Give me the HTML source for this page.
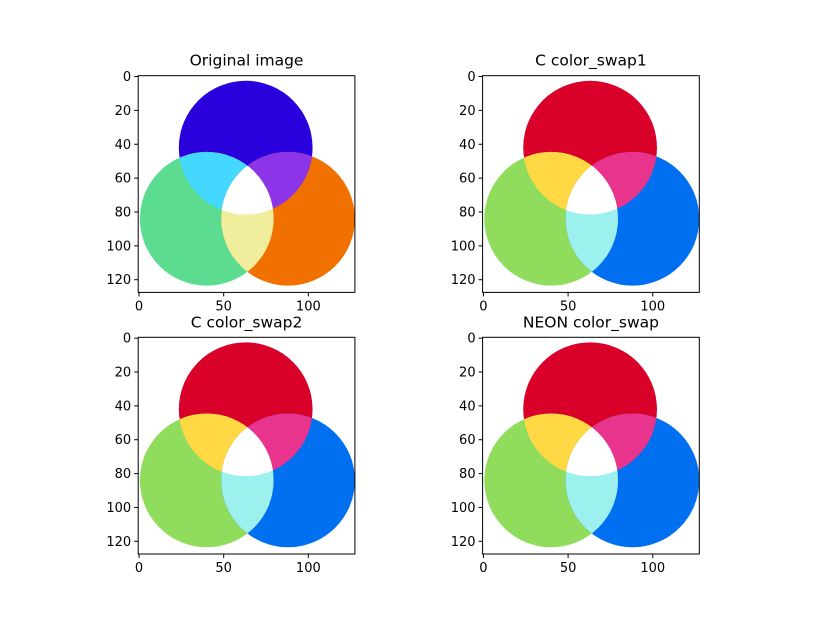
<!DOCTYPE html>
<html><head><meta charset="utf-8">
<style>
html,body{margin:0;padding:0;background:#fff;}
svg{display:block;font-family:"DejaVu Sans","Liberation Sans",sans-serif;}
</style></head>
<body>
<svg id="fig" width="816" height="622" viewBox="0 0 816 622" xmlns="http://www.w3.org/2000/svg"></svg>
<script>
// data
const titles = ["Original image","C color_swap1","C color_swap2","NEON color_swap"];
const circleCx = [63, 40, 88];
const circleCy = [42, 84, 84];
const circleR = [39.5, 39.5, 39.5];
const xTicks = [0, 50, 100];
const yTicks = [0, 20, 40, 60, 80, 100, 120];
// colors: [c0, c1, c2, c01, c02, c12, c012]
const origColors = ["#2a00dc","#5cdc90","#f07000","#44d8ff","#8c34e8","#f0ee9c","#ffffff"];
const swapColors = ["#d9002a","#90dc5c","#0070f0","#ffd844","#e8348c","#9cf0ee","#ffffff"];

const NS = "http://www.w3.org/2000/svg";
const svg = document.getElementById("fig");
const panels = [
  {x:138.2, y:75.7, c:origColors},
  {x:482.6, y:75.7, c:swapColors},
  {x:138.2, y:337.3, c:swapColors},
  {x:482.6, y:337.3, c:swapColors}
];
const S = 216.7, U = S/128;
function mk(tag, attrs, parent){const e=document.createElementNS(NS,tag);for(const k in attrs)e.setAttribute(k,attrs[k]);(parent||svg).appendChild(e);return e;}

panels.forEach((p,i)=>{
  const g = mk("g",{});
  
  
  const sx = v => p.x + (v+0.5)*U;
  const sy = v => p.y + (v+0.5)*U;
  const defs = mk("defs",{},g);
  for(let k=0;k<3;k++){
    const cp = mk("clipPath",{id:"cp"+i+"_"+k},defs);
    mk("circle",{cx:sx(circleCx[k]),cy:sy(circleCy[k]),r:circleR[k]*U},cp);
  }
  mk("rect",{x:p.x,y:p.y,width:S,height:S,fill:"#fff"},g);
  for(let k=0;k<3;k++){
    const c = mk("circle",{cx:sx(circleCx[k]),cy:sy(circleCy[k]),r:circleR[k]*U,fill:p.c[k]},g);
    
    
  }
  const pairs=[[0,1,3],[0,2,4],[1,2,5]];
  pairs.forEach(([a,b,ci])=>{
    const gg = mk("g",{"clip-path":"url(#cp"+i+"_"+a+")"},g);
    const c = mk("circle",{cx:sx(circleCx[b]),cy:sy(circleCy[b]),r:circleR[b]*U,fill:p.c[ci]},gg);
    
    
  });
  const g1 = mk("g",{"clip-path":"url(#cp"+i+"_0)"},g);
  const g2 = mk("g",{"clip-path":"url(#cp"+i+"_1)"},g1);
  const c3 = mk("circle",{cx:sx(circleCx[2]),cy:sy(circleCy[2]),r:circleR[2]*U,fill:p.c[6]},g2);
  
  
  const fr = mk("rect",{x:p.x,y:p.y,width:S,height:S,fill:"none",stroke:"#000","stroke-width":1},g);
  
  
  xTicks.forEach(t=>{
    const X=sx(t);
    mk("line",{x1:X,x2:X,y1:p.y+S,y2:p.y+S+4,stroke:"#000","stroke-width":1},g);
    const tx=mk("text",{x:X,y:p.y+S+18,"font-size":13,"text-anchor":"middle",fill:"#000"},g);
    tx.textContent=t;
    
    
  });
  yTicks.forEach(t=>{
    const Y=sy(t);
    mk("line",{x1:p.x-4,x2:p.x,y1:Y,y2:Y,stroke:"#000","stroke-width":1},g);
    const tx=mk("text",{x:p.x-7,y:Y+4.5,"font-size":13,"text-anchor":"end",fill:"#000"},g);
    tx.textContent=t;
    
    
  });
  const ti=mk("text",{x:p.x+S/2,y:p.y-10,"font-size":15.5,"text-anchor":"middle",fill:"#000"},g);
  ti.textContent=titles[i];
  
  
});
</script>
</body></html>
